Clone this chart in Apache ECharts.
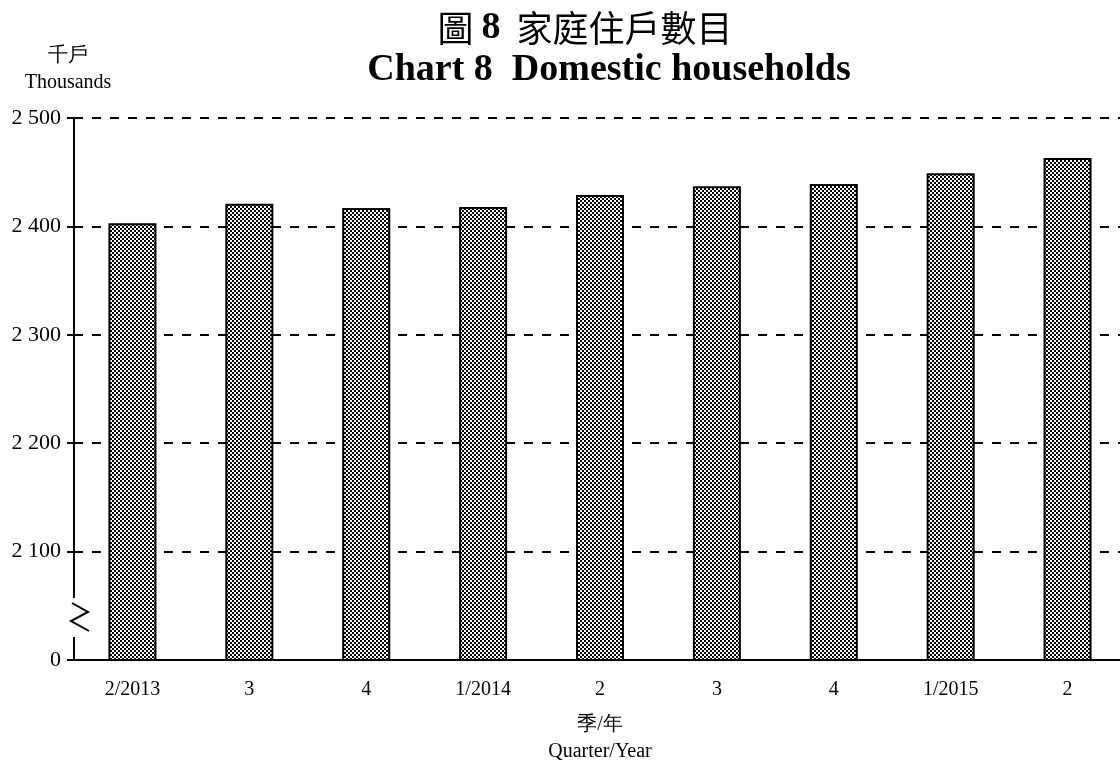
<!DOCTYPE html>
<html>
<head>
<meta charset="utf-8">
<script src="https://cdn.jsdelivr.net/npm/echarts@6/dist/echarts.min.js"></script>
<style>html,body{margin:0;padding:0;background:#fff}#c{width:1120px;height:763px}</style>
</head>
<body>
<div id="c"></div>
<script>
const categories = ['2/2013', '3', '4', '1/2014', '2', '3', '4', '1/2015', '2'];
const households = [2403, 2421, 2417, 2418, 2429, 2437, 2439, 2449, 2463];
const yMin = 2000, yMax = 2500, yStep = 100;

const serif = '"Liberation Serif", "Times New Roman", serif';
const cjk = '"Noto Sans CJK TC", "Noto Sans CJK SC", sans-serif';

function makePattern() {
  const c = document.createElement('canvas');
  c.width = 4; c.height = 4;
  const g = c.getContext('2d');
  g.fillStyle = '#ffffff'; g.fillRect(0, 0, 4, 4);
  g.fillStyle = '#000000';
  g.fillRect(0, 0, 2, 2);
  g.fillRect(2, 2, 2, 2);
  return c;
}

function fmt(v) {
  if (v === yMin) return '0';
  return String(v).replace(/\B(?=(\d{3})+(?!\d))/g, ' ');
}

const chart = echarts.init(document.getElementById('c'), null, {renderer: 'canvas'});
chart.setOption({
  backgroundColor: '#ffffff',
  animation: false,
  title: [{
    text: '{a|圖 }{b|8}{a|  家庭住戶數目}',
    left: 580, top: 4, textAlign: 'center',
    textStyle: {rich: {
      a: {fontFamily: cjk, fontSize: 36, fontWeight: 'normal', color: '#000'},
      b: {fontFamily: serif, fontSize: 38, fontWeight: 'bold', color: '#000'}
    }}
  }, {
    text: 'Chart 8  Domestic households',
    left: 604, top: 46, textAlign: 'center',
    textStyle: {fontFamily: serif, fontSize: 38, fontWeight: 'bold', color: '#000'}
  }],
  grid: {left: 74, right: -6, top: 118, bottom: 103, containLabel: false, outerBoundsMode: 'none'},
  xAxis: {
    type: 'category',
    data: categories,
    axisLine: {lineStyle: {color: '#000', width: 2}},
    axisTick: {show: false},
    axisLabel: {fontFamily: serif, fontSize: 20, color: '#000', margin: 20},
    name: '季/年\nQuarter/Year',
    nameLocation: 'middle',
    nameGap: 51,
    nameTextStyle: {fontFamily: serif, fontSize: 20, color: '#000', lineHeight: 27}
  },
  yAxis: {
    type: 'value',
    min: yMin, max: yMax, interval: yStep,
    axisLine: {show: true, lineStyle: {color: '#000', width: 2}},
    axisTick: {show: true, length: 7, lineStyle: {color: '#000', width: 2}},
    axisLabel: {fontFamily: serif, fontSize: 22, color: '#000', margin: 13, formatter: fmt},
    splitLine: {show: true, lineStyle: {color: '#000', width: 2, type: [9, 9]}},
    name: '千戶\nThousands',
    nameLocation: 'end',
    nameGap: 22,
    nameTextStyle: {fontFamily: serif, fontSize: 20, color: '#000', lineHeight: 27, align: 'center', padding: [0, 12, 0, 0]}
  },
  series: [{
    type: 'bar',
    data: households,
    barWidth: 48,
    itemStyle: {
      color: {image: makePattern(), repeat: 'repeat'},
      borderColor: '#000',
      borderWidth: 2
    }
  }],
  graphic: [{
    type: 'rect',
    shape: {x: 68, y: 598, width: 12, height: 39},
    style: {fill: '#fff'},
    z: 100
  }, {
    type: 'polyline',
    shape: {points: [[72, 603], [88, 612], [71, 621], [89, 631]]},
    style: {stroke: '#000', lineWidth: 2, fill: null},
    z: 101
  }]
});
</script>
</body>
</html>
